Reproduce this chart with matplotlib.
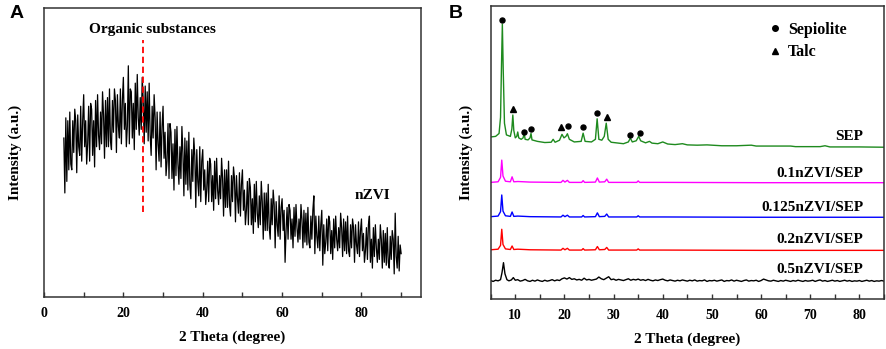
import numpy as np
import matplotlib
matplotlib.use('Agg')
import matplotlib.pyplot as plt
from matplotlib.lines import Line2D

# ---- panel A : nZVI (2theta from 5 to 90, step 0.25) ----
nzvi_y = [
    55, 36, 62, 40,   61, 44, 64, 46,   44, 61, 50, 65,   61, 43, 63, 52,   49, 66, 47, 61,
    70, 52, 61, 46,   53, 66, 47, 67,   65, 49, 61, 45,   68, 52, 70, 56,   51, 64, 53, 71,
    63, 48, 68, 52,   69, 52, 72, 54,   51, 68, 57, 72,   68, 50, 70, 59,   55, 72, 53, 68,
    76, 58, 67, 52,   59, 80, 53, 72,   71, 55, 67, 51,   74, 58, 77, 62,   56, 69, 58, 76,
    68, 53, 73, 57,   71, 54, 74, 56,   49, 66, 55, 70,   62, 44, 64, 53,   47, 64, 45, 59,
    66, 48, 57, 42,   47, 60, 41, 60,   57, 41, 53, 37,   58, 42, 59, 46,   39, 52, 41, 59,
    50, 35, 55, 39,   54, 37, 57, 39,   34, 51, 40, 55,   49, 31, 51, 40,   35, 52, 33, 47,
    51, 37, 44, 32,   37, 47, 33, 48,   46, 33, 42, 30,   47, 34, 48, 37,   32, 42, 34, 48,
    41, 28, 44, 31,   44, 31, 47, 32,   28, 42, 33, 45,   41, 26, 42, 34,   29, 43, 28, 39,
    44, 30, 37, 25,   30, 40, 25, 41,   38, 25, 34, 22,   39, 26, 40, 29,   24, 35, 25, 40,
    33, 20, 36, 23,   36, 23, 39, 24,   20, 34, 25, 37,   32, 17, 33, 25,   21, 35, 20, 31,
    34, 23, 30, 12,   23, 31, 20, 32,   30, 20, 27, 17,   31, 21, 32, 24,   19, 27, 20, 32,
    27, 17, 30, 19,   29, 18, 31, 19,   17, 28, 20, 30,   35, 15, 28, 21,   17, 28, 16, 25,
    30, 11, 25, 15,   19, 27, 16, 28,   26, 15, 23, 13,   27, 17, 28, 20,   16, 24, 17, 29,
    24, 14, 27, 16,   26, 15, 28, 16,   14, 25, 17, 27,   24, 12, 25, 18,   15, 26, 14, 23,
    27, 16, 22, 12,   16, 24, 13, 25,   28, 12, 20, 10,   24, 14, 25, 17,   12, 20, 13, 25,
    20, 10, 23, 12,   22, 11, 24, 12,   10, 21, 13, 23,   20, 8, 29, 14,    10, 21, 9, 18,
    15,
]
nzvi_x = 5 + 0.25 * np.arange(len(nzvi_y))
organic_x = 25

# ---- panel B ----
sep_x = [5.0, 6.0, 6.7, 7.0, 7.2, 7.37, 7.55, 7.8, 8.2, 9.0, 9.3, 9.5, 9.7, 10.0, 10.3,
         10.5, 10.7, 11.2, 11.6, 11.8, 12.0, 12.6, 13.0, 13.2, 13.4, 14.5, 16.0, 17.3,
         17.7, 18.1, 19.0, 19.5, 19.9, 20.3, 20.6, 21.0, 22.0, 23.4, 23.8, 24.2, 25.5,
         26.3, 26.65, 27.0, 27.6, 28.1, 28.5, 28.9, 29.5, 30.5, 32.0, 33.0, 33.4, 33.8,
         34.6, 35.1, 35.5, 36.5, 37.3, 37.8, 39.0, 40.0, 41.0, 42.5, 44.0, 45.0, 47.0,
         49.0, 52.0, 55.0, 58.0, 59.0, 61.0, 66.0, 67.0, 68.0, 72.0, 73.0, 74.0, 80.0, 85.0]
sep_y = [55.3, 55.5, 56.5, 62, 80, 93.8, 78, 60, 56, 55.5, 58, 62.8, 57.5, 55, 55.5,
         57, 55, 54.5, 55, 56.8, 54.5, 54.3, 55, 56.5, 54.3, 53.8, 53.4, 53.5,
         54.5, 53.5, 54.2, 56.2, 55, 55.5, 56.4, 54.5, 53.6, 53.8, 56.6, 53.8, 53.6,
         54.5, 61.5, 54.5, 54.2, 55.5, 60, 54.5, 53.5, 53.3, 53, 53.6, 54.9, 53.6,
         54, 55.5, 54, 53.3, 53.8, 53.2, 53, 53.6, 52.9, 52.7, 53, 52.6, 52.5,
         52.6, 52.3, 52.3, 52.5, 52.2, 52.2, 52.2, 52.0, 52.0, 52, 52.3, 51.9, 51.9, 51.8]

nz_x = [5.0, 6.5, 7.0, 7.25, 7.5, 8.0, 9.0, 9.35, 9.7, 10.5, 11.8, 13.0, 19.3, 19.7, 20.1,
        20.6, 21.0, 23.5, 23.8, 24.1, 26.3, 26.7, 27.1, 28.2, 28.6, 29.0, 34.7, 35.0, 35.3,
        40.0, 60.0, 85.0]
y_01 = [39.8, 40.0, 41.5, 47.4, 42.0, 40.2, 40.0, 41.7, 40.0, 40.1, 40.0, 39.9, 39.8, 40.5,
        39.9, 40.5, 39.8, 39.8, 40.4, 39.8, 39.9, 41.3, 39.9, 40.0, 40.9, 39.8, 39.8, 40.3,
        39.8, 39.8, 39.7, 39.7]
y_0125 = [28.1, 28.3, 29.8, 35.5, 30.0, 28.4, 28.2, 29.7, 28.2, 28.3, 28.2, 28.1, 28.0, 28.6,
          28.1, 28.6, 28.0, 28.0, 28.5, 28.0, 28.1, 29.4, 28.1, 28.2, 29.0, 28.0, 28.0, 28.4,
          28.0, 28.0, 27.9, 27.9]
y_02 = [16.8, 17.0, 18.3, 23.8, 18.6, 17.1, 16.9, 18.1, 16.9, 17.0, 16.9, 16.8, 16.7, 17.3,
        16.8, 17.3, 16.7, 16.7, 17.2, 16.7, 16.8, 17.9, 16.8, 16.9, 17.6, 16.7, 16.7, 17.1,
        16.7, 16.7, 16.6, 16.6]

y05_head_x = [5.0, 5.5, 6.0, 6.5, 7.0, 7.3, 7.6, 7.9, 8.3, 8.7, 9.2, 9.6]
y05_head = [6.3, 6.0, 6.4, 6.2, 6.6, 9.0, 12.4, 8.6, 6.6, 6.2, 6.5, 7.3]
y05_tail = [  # 10 -> 85, step 0.5
    6.4, 6.6, 6.1, 6.3, 6.7, 6.2, 6.0, 6.4, 6.1, 6.5,
    6.2, 6.0, 6.4, 6.1, 6.3, 6.6, 6.2, 6.5, 6.3, 6.9,
    7.2, 6.8, 7.3, 6.7, 6.9, 6.5, 6.7, 6.4, 7.1, 6.5,
    6.7, 6.4, 6.6, 6.8, 7.5, 6.9, 6.6, 7.1, 7.6, 6.6,
    6.8, 6.4, 6.7, 6.5, 6.3, 6.6, 6.9, 6.4, 6.7, 6.5,
    6.8, 6.4, 6.6, 6.3, 6.7, 6.4, 6.2, 6.5, 6.3, 6.6,
    6.8, 6.4, 6.2, 6.5, 6.3, 6.1, 6.4, 6.2, 6.5, 6.3,
    6.1, 6.4, 6.2, 6.5, 6.1, 6.3, 6.2, 6.5, 6.0, 6.3,
    6.2, 6.4, 6.1, 6.3, 6.5, 6.0, 6.3, 6.2, 6.5, 6.1,
    6.4, 6.2, 6.0, 6.3, 6.5, 6.1, 6.3, 6.2, 6.4, 6.0,
    6.3, 6.8, 6.5, 6.2, 6.1, 6.4, 6.2, 6.0, 6.3, 6.1,
    6.4, 6.2, 6.0, 6.3, 6.1, 6.4, 6.2, 6.0, 6.3, 6.1,
    6.2, 6.4, 6.0, 6.3, 6.5, 6.1, 6.3, 6.0, 6.2, 6.4,
    6.1, 6.3, 6.0, 6.2, 6.4, 6.1, 6.3, 6.0, 6.2, 6.1,
    6.3, 6.0, 6.2, 6.4, 6.1, 6.3, 6.0, 6.2, 6.1, 6.3,
    6.1,
]
y05_x = y05_head_x + list(10 + 0.5 * np.arange(len(y05_tail)))
y_05 = y05_head + y05_tail

sepiolite_x = [7.37, 11.85, 13.2, 20.7, 23.8, 26.7, 33.4, 35.3]
sepiolite_y = [95.2, 56.9, 58.0, 59.0, 58.7, 63.6, 56.0, 56.7]
talc_x = [9.48, 19.4, 28.7]
talc_y = [64.8, 58.7, 62.0]

labels = ['SEP', '0.1nZVI/SEP', '0.125nZVI/SEP', '0.2nZVI/SEP', '0.5nZVI/SEP']
label_y = [55.6, 42.9, 31.3, 20.4, 10.1]
colors = ['#1e8a1e', '#ff00ff', '#0000ff', '#ff0000', '#000000']

serif = 'Liberation Serif'
plt.rcParams['font.family'] = serif
plt.rcParams['font.weight'] = 'bold'

fig = plt.figure(figsize=(8.86, 3.49), dpi=100)
axA = fig.add_axes([44/886, 1-297/349, 377/886, 289/349])
axB = fig.add_axes([490.7/886, 1-299/349, 393.3/886, 293/349])

# panel A
axA.plot(nzvi_x, nzvi_y, color='black', lw=0.9)
axA.plot([organic_x, organic_x], [29.4, 89], color='red', lw=1.3, ls=(0, (3.5, 2)))
axA.text(27.4, 92.7, 'Organic substances', ha='center', va='center', fontsize=11, fontweight='bold')
axA.text(82.8, 35, 'nZVI', ha='center', va='center', fontsize=11, fontweight='bold')
axA.set_xlim(0, 95)
axA.set_ylim(0, 100)
axA.set_xticks([0, 20, 40, 60, 80])
axA.set_xticks([10, 30, 50, 70, 90], minor=True)
axA.set_yticks([])

# panel B
series = [(sep_x, sep_y), (nz_x, y_01), (nz_x, y_0125), (nz_x, y_02), (y05_x, y_05)]
for (xs, ys), c in zip(series, colors):
    axB.plot(xs, ys, color=c, lw=1.0)
for lab, ly in zip(labels, label_y):
    axB.text(80.76, ly, lab, ha='right', va='center', fontsize=11, fontweight='bold')
axB.plot(sepiolite_x, sepiolite_y, 'o', color='black', ms=3.6, ls='none')
axB.plot(talc_x, talc_y, '^', color='black', ms=4.5, ls='none')
handles = [Line2D([], [], marker='o', color='black', ls='none', ms=4),
           Line2D([], [], marker='^', color='black', ls='none', ms=4.5)]
axB.legend(handles, ['Sepiolite', 'Talc'], loc='upper left', bbox_to_anchor=(0.663, 0.995),
           frameon=False, handletextpad=0.2, handlelength=1.2, labelspacing=0.4,
           prop={'family': serif, 'weight': 'bold', 'size': 11.5})
axB.set_xlim(5, 85)
axB.set_ylim(0, 100)
axB.set_xticks(range(10, 81, 10))
axB.set_xticks(range(5, 86, 10), minor=True)
axB.set_yticks([])

for ax, lp in ((axA, 16), (axB, 12.5)):
    for s in ax.spines.values():
        s.set_color('#333333')
        s.set_linewidth(1.1)
    ax.tick_params(axis='x', which='major', direction='in', length=3.5, width=1,
                   labelsize=10, pad=7, color='#333333')
    ax.tick_params(axis='x', which='minor', direction='in', length=3.5, width=1, color='#333333')
    ax.set_xlabel('2 Theta (degree)', fontsize=11, fontweight='bold', labelpad=8)
    ax.set_ylabel('Intensity (a.u.)', fontsize=11, fontweight='bold', labelpad=lp)

fig.text(10/886, 1-14/349, 'A', fontsize=14, fontweight='bold', family='Liberation Sans', va='center')
fig.text(449/886, 1-13/349, 'B', fontsize=14, fontweight='bold', family='Liberation Sans', va='center')

fig.savefig('out.png', dpi=100)
